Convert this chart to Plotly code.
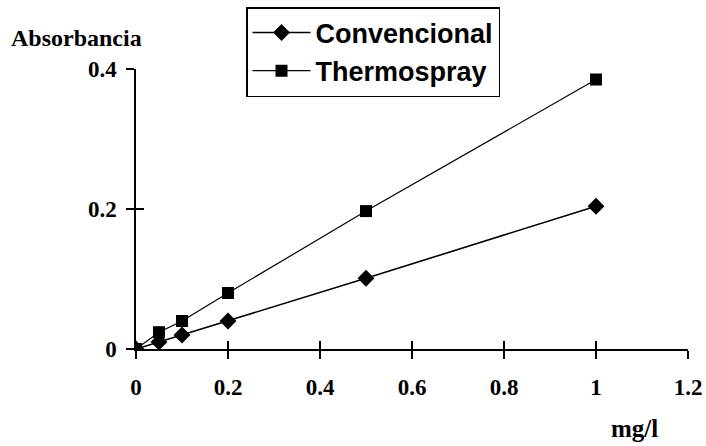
import plotly.graph_objects as go

conc = [0, 0.05, 0.1, 0.2, 0.5, 1.0]
convencional = [0, 0.01, 0.02, 0.04, 0.101, 0.204]
thermospray = [0, 0.024, 0.04, 0.08, 0.197, 0.385]
x_ticks = [0, 0.2, 0.4, 0.6, 0.8, 1, 1.2]
x_ticklabels = ["0", "0.2", "0.4", "0.6", "0.8", "1", "1.2"]
y_ticks = [0, 0.2, 0.4]
y_ticklabels = ["0", "0.2", "0.4"]

W, H = 706, 446
L, R, T, B = 136, 18, 69, 97

fig = go.Figure()
fig.add_trace(go.Scatter(x=conc, y=convencional, name="Convencional", mode="lines+markers",
                         line=dict(color="black", width=1.6),
                         marker=dict(symbol="diamond", size=13, color="black")))
fig.add_trace(go.Scatter(x=conc, y=thermospray, name="Thermospray", mode="lines+markers",
                         line=dict(color="black", width=1.2),
                         marker=dict(symbol="square", size=12, color="black")))
# invisible helper trace to activate secondary axes (for crossing ticks)
fig.add_trace(go.Scatter(x=[0], y=[0], xaxis="x2", yaxis="y2", showlegend=False,
                         hoverinfo="skip", mode="markers", marker=dict(opacity=0)))

tickfont = dict(family="Liberation Serif", size=23, color="black", weight="bold")
common_x = dict(range=[0, 1.2], showgrid=False, zeroline=False, tickvals=x_ticks,
                showline=True, linecolor="black", linewidth=1.5, tickcolor="black",
                tickwidth=1.5, ticklen=8)
common_y = dict(range=[0, 0.4], showgrid=False, zeroline=False, tickvals=y_ticks,
                showline=True, linecolor="black", linewidth=1.5, tickcolor="black",
                tickwidth=1.5, ticklen=8)

fig.update_layout(
    width=W, height=H,
    margin=dict(l=L, r=R, t=T, b=B, autoexpand=False),
    paper_bgcolor="white", plot_bgcolor="white",
    xaxis=dict(**common_x, ticks="outside", ticktext=x_ticklabels, tickfont=tickfont,
               ticklabelstandoff=9),
    yaxis=dict(**common_y, ticks="outside", ticktext=y_ticklabels, tickfont=tickfont,
               ticklabelstandoff=5),
    xaxis2=dict(**common_x, ticks="inside", overlaying="x", showticklabels=False, matches="x"),
    yaxis2=dict(**common_y, ticks="inside", overlaying="y", showticklabels=False, matches="y"),
    legend=dict(xref="container", yref="container", x=246 / W, y=1 - 7 / H,
                xanchor="left", yanchor="top",
                bordercolor="black", borderwidth=1.5, bgcolor="white",
                font=dict(family="Liberation Sans", size=27, color="black", weight="bold"),
                itemwidth=58, tracegroupgap=0),
    showlegend=True,
    annotations=[
        dict(text="<b>Absorbancia</b>", xref="paper", yref="paper",
             x=-(L - 9) / (W - L - R), y=1 + (T - 38) / (H - T - B),
             xanchor="left", yanchor="middle", showarrow=False,
             font=dict(family="Liberation Serif", size=24, color="black")),
        dict(text="<b>mg/l</b>", xref="paper", yref="paper",
             x=(634 - L) / (W - L - R), y=-(429 - (H - B)) / (H - T - B),
             xanchor="center", yanchor="middle", showarrow=False,
             font=dict(family="Liberation Serif", size=25, color="black")),
    ],
)
fig.write_html("out.html", config={"displayModeBar": False},
               post_script="document.body.style.margin='0';document.body.style.padding='0';")
